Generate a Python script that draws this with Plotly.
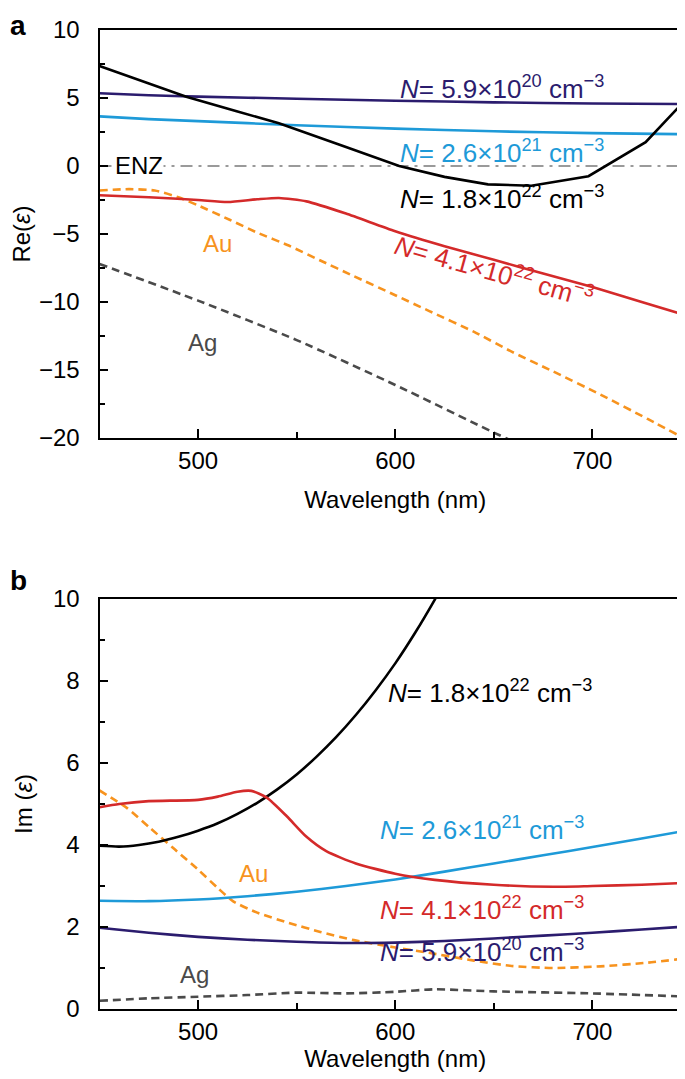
import plotly.graph_objects as go

# ---------------- data: panel a (Re eps) ----------------
wl_n20_re = [450, 475, 500, 550, 600, 650, 700, 750]
re_n20 = [5.35, 5.2, 5.1, 4.95, 4.8, 4.68, 4.6, 4.55]

wl_n21_re = [450, 475, 500, 525, 550, 600, 650, 700, 750]
re_n21 = [3.65, 3.45, 3.3, 3.15, 3.0, 2.75, 2.55, 2.42, 2.33]

wl_n22a_re = [450, 475, 494, 520, 541, 575, 602, 625, 647, 669, 698, 727, 750]
re_n22a = [7.35, 6.1, 5.1, 4.0, 3.15, 1.4, 0.0, -0.8, -1.35, -1.45, -0.75, 1.75, 5.3]

wl_n22b_re = [450, 475, 500, 515, 530, 541, 555, 575, 600, 625, 650, 675, 700, 725, 750]
re_n22b = [-2.15, -2.3, -2.5, -2.65, -2.45, -2.35, -2.6, -3.5, -4.8, -5.9, -6.9, -7.9, -8.9, -10.0, -11.1]

wl_au_re = [450, 465, 478, 490, 500, 516, 530, 546, 562, 579, 600, 617, 640, 659, 680, 704, 728, 750]
re_au = [-1.8, -1.7, -1.8, -2.3, -2.9, -3.95, -4.9, -5.85, -6.95, -8.1, -9.5, -10.65, -12.2, -13.65, -15.1, -16.8, -18.6, -20.3]

wl_ag_re = [450, 500, 550, 600, 650, 665]
re_ag = [-7.2, -9.9, -12.8, -16.1, -19.6, -20.6]

enz_x = [450, 750]
enz_y = [0, 0]

# ---------------- data: panel b (Im eps) ----------------
wl_n20_im = [450, 475, 500, 525, 550, 575, 600, 625, 650, 675, 700, 725, 750]
im_n20 = [1.98, 1.86, 1.76, 1.69, 1.64, 1.61, 1.62, 1.66, 1.72, 1.79, 1.86, 1.94, 2.02]

wl_n21_im = [450, 475, 500, 525, 550, 575, 600, 625, 650, 675, 700, 725, 750]
im_n21 = [2.64, 2.63, 2.67, 2.75, 2.86, 3.0, 3.16, 3.35, 3.55, 3.75, 3.95, 4.16, 4.37]

wl_n22a_im = [450, 460, 470, 480, 490, 500, 510, 520, 530, 540, 550, 560, 570, 580, 590, 600, 610, 620, 630]
im_n22a = [3.98, 3.96, 4.0, 4.08, 4.2, 4.35, 4.53, 4.76, 5.03, 5.35, 5.72, 6.15, 6.63, 7.17, 7.77, 8.43, 9.17, 9.98, 10.85]

wl_n22b_im = [450, 460, 475, 500, 510, 520, 527, 535, 545, 555, 565, 580, 600, 620, 650, 680, 700, 725, 750]
im_n22b = [4.92, 5.0, 5.07, 5.1, 5.18, 5.3, 5.32, 5.15, 4.7, 4.2, 3.85, 3.55, 3.3, 3.15, 3.03, 2.98, 3.0, 3.03, 3.08]

wl_au_im = [450, 464, 476, 488, 500, 510, 518, 530, 546, 562, 579, 600, 617, 640, 659, 680, 704, 728, 750]
im_au = [5.33, 4.9, 4.4, 3.9, 3.4, 2.95, 2.62, 2.35, 2.1, 1.88, 1.68, 1.5, 1.37, 1.18, 1.05, 1.0, 1.04, 1.13, 1.25]

wl_ag_im = [450, 475, 500, 525, 550, 575, 600, 620, 650, 700, 750]
im_ag = [0.2, 0.26, 0.3, 0.34, 0.4, 0.38, 0.42, 0.48, 0.43, 0.38, 0.3]

# ---------------- styles ----------------
PURPLE = "#2b1c6e"
BLUE = "#1e9ad8"
BLACK = "#000000"
RED = "#d42a2a"
ORANGE = "#f7931e"
GRAY = "#4a4a4a"
ENZGRAY = "#9a9a9a"
FONT = "Liberation Sans, Arial, Helvetica, sans-serif"
LW = 2.6
LABEL_SIZE = 26

fig = go.Figure()

def add(x, y, color, xa, ya, dash="solid", width=LW, smooth=True):
    line = dict(color=color, width=width, dash=dash)
    if smooth:
        line.update(shape="spline", smoothing=0.6)
    fig.add_trace(go.Scatter(x=x, y=y, mode="lines", xaxis=xa, yaxis=ya, line=line,
                             showlegend=False, hoverinfo="skip"))

# panel a
add(enz_x, enz_y, ENZGRAY, "x", "y", dash="12px,6px,3px,6px", width=2, smooth=False)
add(wl_ag_re, re_ag, GRAY, "x", "y", dash="8px,5px")
add(wl_au_re, re_au, ORANGE, "x", "y", dash="8px,5px")
add(wl_n20_re, re_n20, PURPLE, "x", "y")
add(wl_n21_re, re_n21, BLUE, "x", "y")
add(wl_n22a_re, re_n22a, BLACK, "x", "y", smooth=False)
add(wl_n22b_re, re_n22b, RED, "x", "y")

# panel b
add(wl_ag_im, im_ag, GRAY, "x2", "y2", dash="8px,5px")
add(wl_au_im, im_au, ORANGE, "x2", "y2", dash="8px,5px")
add(wl_n20_im, im_n20, PURPLE, "x2", "y2")
add(wl_n21_im, im_n21, BLUE, "x2", "y2")
add(wl_n22a_im, im_n22a, BLACK, "x2", "y2")
add(wl_n22b_im, im_n22b, RED, "x2", "y2")

xdom = [91.5 / 685, 683 / 685]
H = 1079
ydom_a = [(H - 430) / H, (H - 22) / H]
ydom_b = [(H - 1001) / H, (H - 591) / H]

tickfont = dict(family=FONT, size=24, color="black")
common_x = dict(range=[450, 750], tickvals=[500, 600, 700], ticks="inside", ticklen=9,
                tickwidth=1.5, tickcolor="black", showline=True, linecolor="black",
                linewidth=2, mirror=True, showgrid=False, zeroline=False,
                tickfont=tickfont, automargin=False,
                minor=dict(tickvals=[550, 650], ticks="inside", ticklen=6,
                           tickwidth=1.5, tickcolor="black"))
common_y = dict(ticks="inside", ticklen=8, tickwidth=1.5, tickcolor="black",
                showline=True, linecolor="black", linewidth=2, mirror=True,
                showgrid=False, zeroline=False, tickfont=tickfont, automargin=False,
                ticklabelstandoff=13)

fig.update_layout(
    width=685, height=1079,
    margin=dict(l=0, r=0, t=0, b=0),
    paper_bgcolor="white", plot_bgcolor="white",
    font=dict(family=FONT, size=24, color="black"),
    xaxis=dict(domain=xdom, anchor="y",
               title=dict(text="Wavelength (nm)", font=dict(family=FONT, size=24), standoff=18),
               **common_x),
    yaxis=dict(domain=ydom_a, anchor="x", range=[-20, 10],
               tickvals=[-20, -15, -10, -5, 0, 5, 10],
               title=dict(text="Re(<i>ε</i>)", font=dict(family=FONT, size=24), standoff=14),
               minor=dict(tickvals=[-17.5, -12.5, -7.5, -2.5, 2.5, 7.5], ticks="inside",
                          ticklen=5, tickwidth=1.5, tickcolor="black"),
               **common_y),
    xaxis2=dict(domain=xdom, anchor="y2",
                title=dict(text="Wavelength (nm)", font=dict(family=FONT, size=24), standoff=6),
                **common_x),
    yaxis2=dict(domain=ydom_b, anchor="x2", range=[0, 10],
                tickvals=[0, 2, 4, 6, 8, 10],
                title=dict(text="Im (<i>ε</i>)", font=dict(family=FONT, size=24), standoff=14),
                minor=dict(tickvals=[1, 3, 5, 7, 9], ticks="inside",
                           ticklen=5, tickwidth=1.5, tickcolor="black"),
                **common_y),
)

def lab(text, x, y, color, xref, yref, angle=0, size=LABEL_SIZE, bg=None):
    fig.add_annotation(text=text, x=x, y=y, xref=xref, yref=yref, showarrow=False,
                       textangle=angle, font=dict(family=FONT, size=size, color=color),
                       xanchor="center", yanchor="middle",
                       bgcolor=bg if bg else "rgba(0,0,0,0)", borderpad=0)

N20 = "<i>N</i>= 5.9×10<sup>20</sup> cm<sup>−3</sup>"
N21 = "<i>N</i>= 2.6×10<sup>21</sup> cm<sup>−3</sup>"
N22a = "<i>N</i>= 1.8×10<sup>22</sup> cm<sup>−3</sup>"
N22b = "<i>N</i>= 4.1×10<sup>22</sup> cm<sup>−3</sup>"

# panel a labels
lab(N20, 654, 5.8, PURPLE, "x", "y")
lab(N21, 654, 1.1, BLUE, "x", "y")
lab(N22a, 654, -2.35, BLACK, "x", "y")
lab(N22b, 650, -7.7, RED, "x", "y", angle=15.5)
lab("ENZ", 470, 0, BLACK, "x", "y", size=24, bg="white")
lab("Au", 510, -5.7, ORANGE, "x", "y", size=24)
lab("Ag", 502, -13.0, GRAY, "x", "y", size=24)

# panel b labels
lab(N22a, 648, 7.75, BLACK, "x2", "y2")
lab(N21, 644, 4.4, BLUE, "x2", "y2")
lab(N22b, 644, 2.45, RED, "x2", "y2")
lab(N20, 644, 1.42, PURPLE, "x2", "y2")
lab("Au", 528, 3.3, ORANGE, "x2", "y2", size=24)
lab("Ag", 498, 0.85, GRAY, "x2", "y2", size=24)

# panel letters
fig.add_annotation(text="<b>a</b>", x=0, y=1, xref="paper", yref="paper",
                   showarrow=False, xanchor="left", yanchor="top",
                   font=dict(family=FONT, size=28, color="black"))
fig.add_annotation(text="<b>b</b>", x=0, y=1 - 572 / H, xref="paper", yref="paper",
                   showarrow=False, xanchor="left", yanchor="middle",
                   font=dict(family=FONT, size=28, color="black"))

fig.write_html("out.html")
